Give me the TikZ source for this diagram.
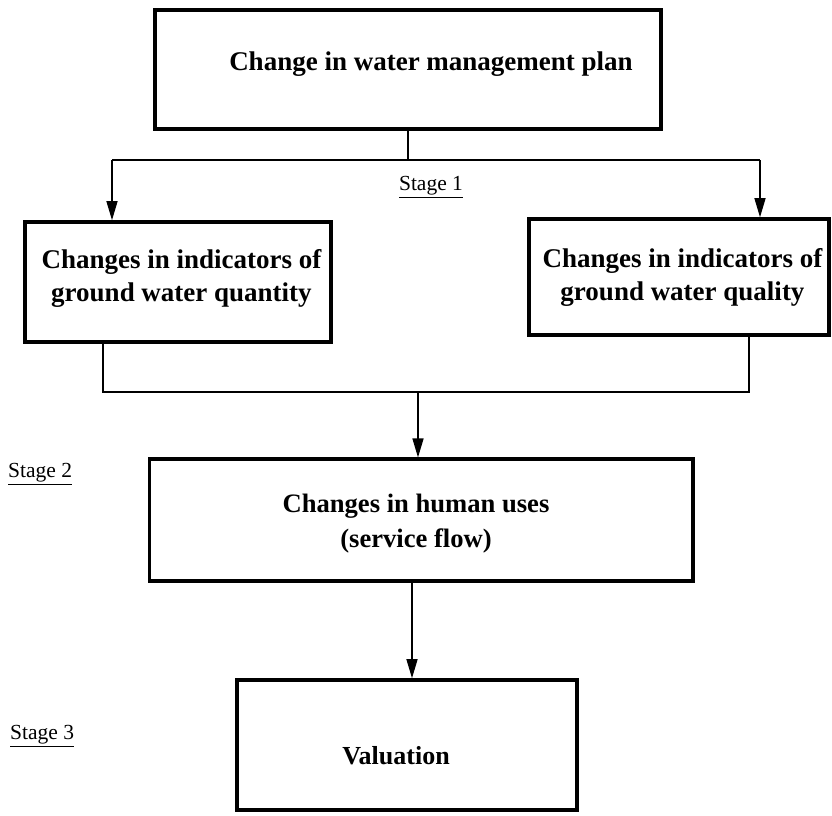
\documentclass[tikz,border=0pt]{standalone}
\usepackage{fontspec}
\setmainfont{Liberation Serif}
\usetikzlibrary{arrows.meta}
\tikzset{
  boxnode/.style={draw, line width=3.6pt, minimum width=#1, inner sep=0pt},
  lbl/.style={align=center, inner sep=0pt},
  conn/.style={line width=1.3pt},
  arr/.style={line width=1.3pt, -{Triangle[width=11pt,length=19pt]}},
  stagelbl/.style={inner sep=0pt, font=\fontsize{21.5}{24}\selectfont},
}
\begin{document}
\begin{tikzpicture}[x=1pt,y=1pt]
\useasboundingbox (0,0) rectangle (832,-815);
% boxes
\node[boxnode=506pt, minimum height=119pt] (top) at (408,-69.5) {};
\node[lbl, font=\fontsize{27}{30}\selectfont\bfseries] (toptxt) at (431,-64) {Change in water management plan};
\node[boxnode=306pt, minimum height=120pt] (qn) at (178,-282) {};
\node[lbl, font=\fontsize{27}{33}\selectfont\bfseries] (qntxt) at (181.5,-278) {Changes in indicators of\\ground water quantity};
\node[boxnode=300pt, minimum height=116pt] (ql) at (679,-277) {};
\node[lbl, font=\fontsize{27}{33}\selectfont\bfseries] (qltxt) at (682.5,-277) {Changes in indicators of\\ground water quality};
\node[boxnode=543.5pt, minimum height=121.5pt] (hu) at (421.25,-520) {};
\node[lbl, font=\fontsize{26.6}{35}\selectfont\bfseries] (hutxt) at (416,-524) {Changes in human uses\\(service flow)};
\node[boxnode=340pt, minimum height=130pt] (val) at (407,-745) {};
\node[lbl, font=\fontsize{26}{30}\selectfont\bfseries] (valtxt) at (396,-756) {Valuation};
% stage labels
\node[stagelbl] (s1) at (431,-187) {\underline{Stage 1}};
\node[stagelbl, anchor=west] (s2) at (8,-474) {\underline{Stage 2}};
\node[stagelbl, anchor=west] (s3) at (10,-736) {\underline{Stage 3}};
% connectors
\coordinate (j1) at (408,-160);
\coordinate (jL) at (112,-160);
\coordinate (jR) at (760,-160);
\draw[conn] (top.south) -- (j1);
\draw[conn] (jL) -- (jR);
\draw[arr] (jL) -- (jL |- qn.north);
\draw[arr] (jR) -- (jR |- ql.north);
\coordinate (kL) at (103,-392);
\coordinate (kR) at (749,-392);
\coordinate (kM) at (418,-392);
\draw[conn] (kL |- qn.south) -- (kL) -- (kR) -- (kR |- ql.south);
\draw[arr] (kM) -- (kM |- hu.north);
\coordinate (mx) at (412,0);
\draw[arr] (hu.south -| mx) -- (mx |- val.north);
\end{tikzpicture}
\end{document}
